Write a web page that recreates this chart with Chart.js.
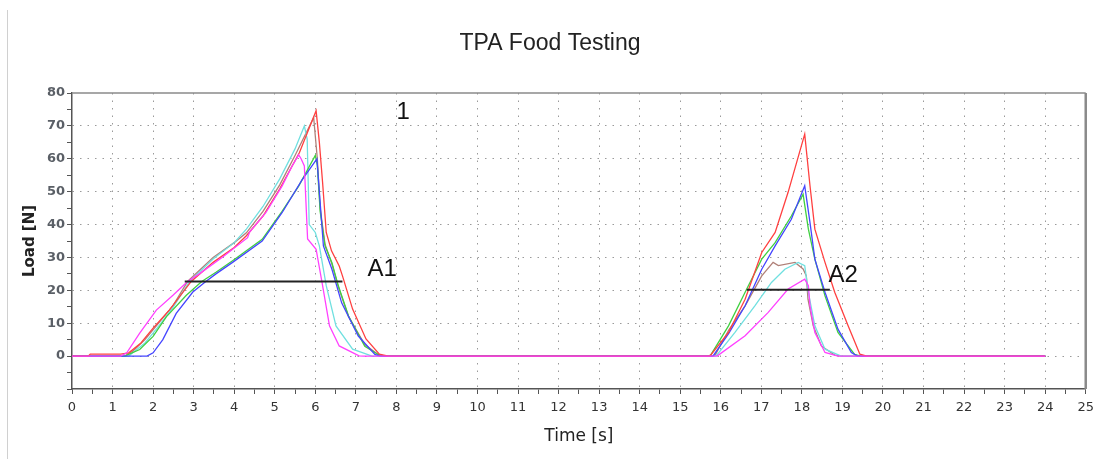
<!DOCTYPE html>
<html>
<head>
    <title>TPA Food Testing</title>
    <style>
        body { margin: 0; background: #fff; }
        #wrap { width: 1100px; height: 459px; }
    </style>
    <script src="https://cdn.jsdelivr.net/npm/chart.js"></script>
</head>
<body>
    <div id="wrap"><canvas id="chartTpa" width="1100" height="459"></canvas></div>

    <script>
        // each curve: [time s, load N]
        var serieMarrom = [[0,0],[1.3,0],[1.5,1.5],[1.8,5],[2.1,9.5],[2.5,15.5],[2.85,22.7],[3.48,30],[4.0,34.5],[4.3,37.5],[4.71,44],[5.12,52],[5.5,61],[5.96,72.5],[6.05,60],[6.12,45],[6.24,34],[6.41,28],[6.57,21],[6.82,12],[7.22,3.5],[7.55,0.5],[7.7,0],
            [15.8,0],[15.86,0.3],[16.2,8],[16.6,15.3],[17.01,24.4],[17.29,28.5],[17.42,27.5],[17.83,28.5],[18.03,26.5],[18.11,24.4],[18.15,17.3],[18.28,9.2],[18.48,3.1],[18.81,0.3],[19,0],[24,0]];
        var serieCiano = [[0,0],[1.4,0],[1.5,1],[1.8,4],[2.1,8.5],[2.5,15],[2.9,22.7],[3.48,29.5],[4.0,34.5],[4.3,38.6],[4.71,45.5],[5.12,53.8],[5.5,63],[5.73,70],[5.8,66],[5.85,40],[6.0,37.6],[6.1,33.5],[6.27,21.4],[6.51,9.2],[6.92,2.1],[7.4,0],
            [15.85,0],[15.9,0.3],[16.35,7.2],[16.84,15.3],[17.25,22.4],[17.58,26.4],[17.91,28.5],[18.07,27.5],[18.16,19.4],[18.32,9.2],[18.57,2.1],[18.97,0],[24,0]];
        var serieVerde = [[0,0],[1.3,0],[1.67,2],[2.0,6],[2.33,12],[2.82,18.5],[3.2,22.7],[3.55,25.5],[3.96,29],[4.69,35.5],[5.18,44],[5.59,51.7],[6.0,61],[6.05,58],[6.12,44],[6.24,33.5],[6.41,28.4],[6.57,21.3],[6.82,12.2],[7.22,3],[7.55,0.5],[7.7,0],
            [15.7,0],[15.75,0.3],[16.19,9.2],[16.6,19.4],[17.01,29.5],[17.34,34.5],[17.74,42.6],[18.03,49.2],[18.16,38.6],[18.32,29.5],[18.57,18.3],[18.89,7.2],[19.3,0.5],[19.45,0],[24,0]];
        var serieAzul = [[0,0],[1.85,0],[2.0,1],[2.24,5],[2.57,13],[2.98,19.5],[3.3,22.7],[3.55,25],[3.96,28.5],[4.69,35],[5.18,43.6],[5.67,53.5],[6.04,60],[6.12,46.7],[6.2,33.5],[6.41,26.4],[6.65,16.2],[7.06,6.1],[7.47,0.5],[7.6,0],
            [15.8,0],[15.82,0.2],[16.2,7],[16.6,15.3],[17.01,26.4],[17.34,33.5],[17.74,41.6],[18.07,51.8],[18.2,40.6],[18.32,29.5],[18.57,19.4],[18.89,8.2],[19.22,1.1],[19.37,0],[24,0]];
        var serieVermelha = [[0,0],[0.4,0],[0.45,0.6],[1.2,0.6],[1.4,1],[1.7,4],[2.0,8.5],[2.4,14],[2.94,22.7],[3.48,28.5],[4.0,33],[4.3,36.6],[4.71,42.6],[5.12,50.8],[5.61,61.9],[6.02,74.6],[6.1,65],[6.18,52.8],[6.27,37.6],[6.4,32],[6.59,27.4],[6.67,24.4],[6.92,14.3],[7.25,5.2],[7.58,0.6],[7.8,0],
            [15.7,0],[15.75,0.3],[16.19,7.2],[16.6,17.3],[17.01,31.5],[17.34,37.6],[17.66,49.8],[18.07,67.5],[18.2,51.8],[18.32,38.6],[18.57,28.5],[18.81,19.4],[19.14,9.2],[19.43,0.6],[19.6,0],[24,0]];
        var serieMagenta = [[0,0],[1.2,0],[1.35,1],[1.67,7],[2.08,14],[2.49,18.5],[2.85,22.7],[3.14,25],[3.7,30],[4.33,36],[4.38,37.7],[4.78,43.6],[5.18,51.7],[5.43,57.8],[5.59,61.2],[5.65,60],[5.73,57.8],[5.81,35.6],[6.02,32.5],[6.18,21.4],[6.35,9.2],[6.59,3.1],[7.08,0.1],[7.2,0],
            [15.9,0],[15.94,0.3],[16.6,6.2],[17.17,13.3],[17.66,20.4],[18.07,23.4],[18.16,21.4],[18.2,15.3],[18.32,7.2],[18.57,1.1],[18.89,0],[24,0]];
        var linhaA1 = [[2.78,22.7],[6.67,22.7]];
        var linhaA2 = [[16.64,20.2],[18.69,20.2]];
        var rotulos = [['1',8.17,74.2],['A1',7.65,26.4],['A2',19.02,24.6]];

        function pontos(lista) {
            return lista.map(function(p) { return {x: p[0], y: p[1]}; });
        }

        function curva(lista, cor, largura) {
            return {
                data: pontos(lista),
                borderColor: cor,
                borderWidth: largura || 1.3,
                pointRadius: 0,
                tension: 0,
                fill: false
            };
        }

        var molduraPlugin = {
            id: 'moldura',
            beforeDraw: function(chart) {
                var c = chart.ctx;
                c.save();
                c.strokeStyle = '#d0d0d0';
                c.lineWidth = 1;
                c.beginPath();
                c.moveTo(7.5, 10);
                c.lineTo(7.5, 459);
                c.stroke();
                c.restore();
            },
            afterDraw: function(chart) {
                var c = chart.ctx;
                var a = chart.chartArea;
                c.save();
                c.strokeStyle = '#8a8a8a';
                c.lineWidth = 1.5;
                c.beginPath();
                c.moveTo(a.left, a.top);
                c.lineTo(a.right, a.top);
                c.stroke();
                c.lineWidth = 2.5;
                c.beginPath();
                c.moveTo(a.right, a.top);
                c.lineTo(a.right, a.bottom);
                c.stroke();
                c.fillStyle = '#111';
                c.font = '24px "Liberation Sans"';
                c.textAlign = 'center';
                c.textBaseline = 'middle';
                rotulos.forEach(function(r) {
                    c.fillText(r[0], chart.scales.x.getPixelForValue(r[1]), chart.scales.y.getPixelForValue(r[2]));
                });
                c.restore();
            }
        };

        // Chart.js paints the first dataset last, so the top-most curves come first
        var ctx = document.getElementById('chartTpa').getContext('2d');
        var chartTpa = new Chart(ctx, {
            type: 'line',
            data: {
                datasets: [
                    curva(linhaA1, '#222', 2),
                    curva(linhaA2, '#222', 2),
                    curva(serieMagenta, '#ff40ff'),
                    curva(serieVermelha, '#ff4040'),
                    curva(serieAzul, '#4545ff'),
                    curva(serieVerde, '#40d040'),
                    curva(serieCiano, '#70e0e0'),
                    curva(serieMarrom, '#b08078')
                ]
            },
            options: {
                responsive: false,
                animation: false,
                layout: { padding: { left: 12, right: 12, bottom: 10, top: 0 } },
                plugins: {
                    legend: { display: false },
                    tooltip: { enabled: false },
                    title: {
                        display: true,
                        text: 'TPA Food Testing',
                        color: '#222',
                        font: { family: 'Liberation Sans', size: 23, weight: 'normal' },
                        padding: { top: 30.2, bottom: 35.2 }
                    }
                },
                scales: {
                    x: {
                        type: 'linear',
                        min: 0,
                        max: 25,
                        afterFit: function(s) { s.height = 60; },
                        ticks: {
                            stepSize: 0.5,
                            autoSkip: false,
                            maxRotation: 0,
                            padding: 6,
                            color: '#333',
                            font: { family: 'DejaVu Sans', size: 13 },
                            callback: function(v) { return Number.isInteger(v) ? v : ''; }
                        },
                        grid: {
                            color: function(c) {
                                return (c.tick && Number.isInteger(c.tick.value) && c.tick.value > 0 && c.tick.value < 25) ? '#9a9a9a' : 'rgba(0,0,0,0)';
                            },
                            tickColor: '#555',
                            tickLength: 5,
                            lineWidth: 1
                        },
                        border: { color: '#555', width: 1.5, dash: [1.5, 6] },
                        title: {
                            display: true,
                            text: 'Time [s]',
                            color: '#222',
                            font: { family: 'DejaVu Sans', size: 17 },
                            padding: { top: 0, bottom: 2 }
                        }
                    },
                    y: {
                        min: -10,
                        max: 80,
                        afterFit: function(s) { s.width = 60; },
                        ticks: {
                            stepSize: 5,
                            autoSkip: false,
                            padding: 2,
                            color: '#5a5f66',
                            font: { family: 'DejaVu Sans', size: 13, weight: 'bold' },
                            callback: function(v) { return (v % 10 === 0 && v >= 0) ? v : ''; }
                        },
                        grid: {
                            color: function(c) {
                                return (c.tick && c.tick.value % 10 === 0 && c.tick.value >= 0 && c.tick.value < 80) ? '#9a9a9a' : 'rgba(0,0,0,0)';
                            },
                            tickColor: '#555',
                            tickLength: 5,
                            lineWidth: 1
                        },
                        border: { color: '#555', width: 1.5, dash: [1.5, 6] },
                        title: {
                            display: true,
                            text: 'Load [N]',
                            color: '#222',
                            font: { family: 'DejaVu Sans', size: 15, weight: 'bold' },
                            padding: { top: 9, bottom: 0 }
                        }
                    }
                }
            },
            plugins: [molduraPlugin]
        });
    </script>
</body>
</html>
